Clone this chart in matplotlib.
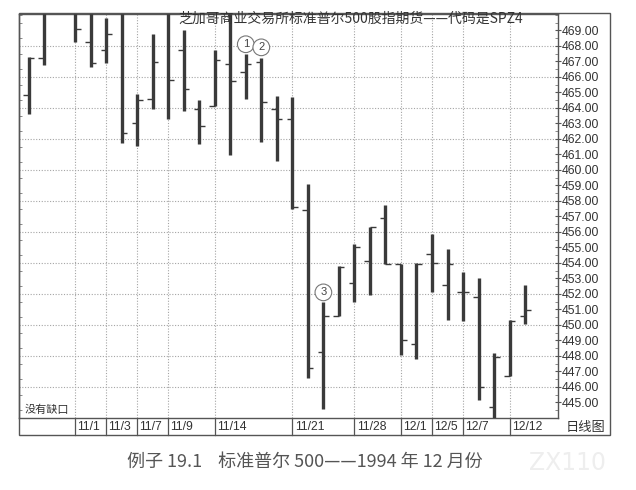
"""
S&P 500 futures (SPZ4) daily bar chart, Nov-Dec 1994.
"""
import numpy as np
import matplotlib
matplotlib.use("Agg")
import matplotlib.pyplot as plt
from matplotlib.patches import Rectangle
from matplotlib.transforms import blended_transform_factory

plt.rcParams['font.family'] = ['Noto Sans CJK SC', 'DejaVu Sans']

# trading days (10/31 has no bar in the source)
dates = ['10/27', '10/28', '10/31', '11/1', '11/2', '11/3', '11/4', '11/7', '11/8',
         '11/9', '11/10', '11/11', '11/14', '11/15', '11/16', '11/17', '11/18',
         '11/21', '11/22', '11/23', '11/25', '11/28', '11/29', '11/30', '12/1',
         '12/2', '12/5', '12/6', '12/7', '12/8', '12/9', '12/12', '12/13']
nan = np.nan
opens = [464.8, 467.2, nan, 470.4, 468.25, 467.7, 470.3, 463.0, 464.55,
         470.2, 467.7, 463.9, 464.1, 466.8, 466.3, 466.95, 463.9,
         463.25, 457.4, 448.25, 450.6, 452.7, 454.1, 456.9, 453.95,
         448.8, 454.55, 452.6, 452.15, 451.8, 444.7, 446.7, 450.6]
highs = [467.3, 470.6, nan, 470.6, 470.5, 469.8, 470.6, 464.9, 468.75,
         470.3, 469.0, 464.5, 467.7, 470.5, 467.5, 467.2, 464.75,
         464.7, 459.1, 451.45, 453.8, 455.25, 456.3, 457.75, 453.95,
         454.0, 455.85, 454.9, 453.4, 453.05, 448.2, 450.35, 452.6]
lows = [463.6, 466.75, nan, 468.25, 466.65, 466.9, 461.7, 461.55, 463.9,
        463.3, 463.8, 461.65, 464.1, 460.95, 464.6, 461.8, 460.6,
        457.45, 446.55, 444.55, 450.6, 451.5, 451.95, 453.9, 448.05,
        447.8, 452.15, 450.3, 450.25, 445.15, 443.5, 446.7, 450.05]
closes = [467.2, 470.4, nan, 469.1, 466.9, 468.75, 462.4, 464.5, 466.95,
          465.8, 465.2, 462.8, 467.1, 465.7, 466.85, 464.4, 463.25,
          457.6, 447.2, 450.6, 453.75, 455.0, 456.3, 453.95, 449.0,
          453.95, 454.0, 453.9, 452.15, 446.0, 447.95, 450.25, 450.95]

label_dates = ['11/1', '11/3', '11/7', '11/9', '11/14', '11/21', '11/28',
               '12/1', '12/5', '12/7', '12/12']
marks = {'11/16': '1', '11/17': '2', '11/23': '3'}
mark_y = {'1': 468.1, '2': 467.9, '3': 452.1}

title = '芝加哥商业交易所标准普尔500股指期货——代码是SPZ4'
caption = '例子 19.1    标准普尔 500——1994 年 12 月份'

W, H = 636, 490
fig = plt.figure(figsize=(W / 100, H / 100), dpi=100)
fig.patch.set_facecolor('white')

# plot box in pixels
L, R, T, B = 19, 558, 14, 418
ax = fig.add_axes([L / W, 1 - B / H, (R - L) / W, (B - T) / H])

x = np.arange(len(dates))
step = 15.52
x0px = 28.5
ax.set_xlim((L - x0px) / step, (R - x0px) / step)
ax.set_ylim(444.0, 470.05)

bar_col = '#3a3a3a'
o = np.array(opens); h = np.array(highs); l = np.array(lows); c = np.array(closes)
ok = ~np.isnan(o)
ax.vlines(x[ok], l[ok], h[ok], color=bar_col, lw=2.4, zorder=3)
tw = 0.36
ax.hlines(o[ok], x[ok] - tw, x[ok], color=bar_col, lw=1.0, zorder=3)
ax.hlines(c[ok], x[ok], x[ok] + tw, color=bar_col, lw=1.0, zorder=3)

# grid
sep = [dates.index(d) for d in label_dates]
for s in sep:
    ax.axvline(s, color='#a5a5a5', lw=0.8, ls=(0, (1, 1.5)), zorder=1)
for yv in range(446, 470, 2):
    ax.axhline(yv, color='#a5a5a5', lw=0.8, ls=(0, (1, 1.5)), zorder=1)

# axes styling
for sp in ax.spines.values():
    sp.set_color('#555555')
    sp.set_linewidth(1.0)
ax.set_xticks([])
ax.yaxis.tick_right()
ax.set_yticks(np.arange(445, 470, 1))
ax.set_yticklabels([f'{v:.2f}' for v in range(445, 470)],
                   fontfamily='Liberation Sans', fontsize=8.8, color='#333333')
ax.tick_params(axis='y', which='major', direction='inout', length=4,
               width=0.8, color='#555555', pad=1)
ax.set_yticks(np.arange(444, 470.01, 0.5), minor=True)
ax.tick_params(axis='y', which='minor', left=True, right=True, direction='in',
               length=2, width=0.6, color='#777777')

# circled numbers
for d, n in marks.items():
    ax.text(dates.index(d), mark_y[n], n, ha='center', va='center', fontsize=8,
            color='#444444', fontfamily='Liberation Sans', zorder=4,
            bbox=dict(boxstyle='circle,pad=0.3', fc='white', ec='#777777', lw=0.8))

ax.text(0.01, 0.008, '没有缺口', transform=ax.transAxes, fontsize=8,
        color='#333333', ha='left', va='bottom')

fig.text(351 / W, 1 - 19 / H, title, ha='center', va='center',
         fontsize=10, color='#333333')

# date row under plot
RR, DB = 610, 435
tr = blended_transform_factory(ax.transData, fig.transFigure)
for s, d in zip(sep, label_dates):
    ax.plot([s, s], [1 - DB / H, 1 - B / H], color='#555555', lw=0.9,
            transform=tr, clip_on=False)
    ax.text(s + 0.15, 1 - 427 / H, d, transform=tr, fontsize=8.8,
            fontfamily='Liberation Sans', color='#333333', ha='left', va='center')
fig.add_artist(Rectangle((L / W, 1 - DB / H), (RR - L) / W, (DB - 13) / H,
                         transform=fig.transFigure, fill=False, ec='#555555', lw=1.0))
fig.text(586 / W, 1 - 427 / H, '日线图', ha='center', va='center',
         fontsize=9.5, color='#333333')

# caption and watermark
fig.text(305 / W, 1 - 462 / H, caption, ha='center', va='center',
         fontsize=13, color='#555555')
fig.text(568 / W, 1 - 463 / H, 'ZX110', ha='center', va='center', fontsize=17,
         color='#eeeeee', fontfamily='DejaVu Sans')

fig.savefig('out.png', dpi=100)
